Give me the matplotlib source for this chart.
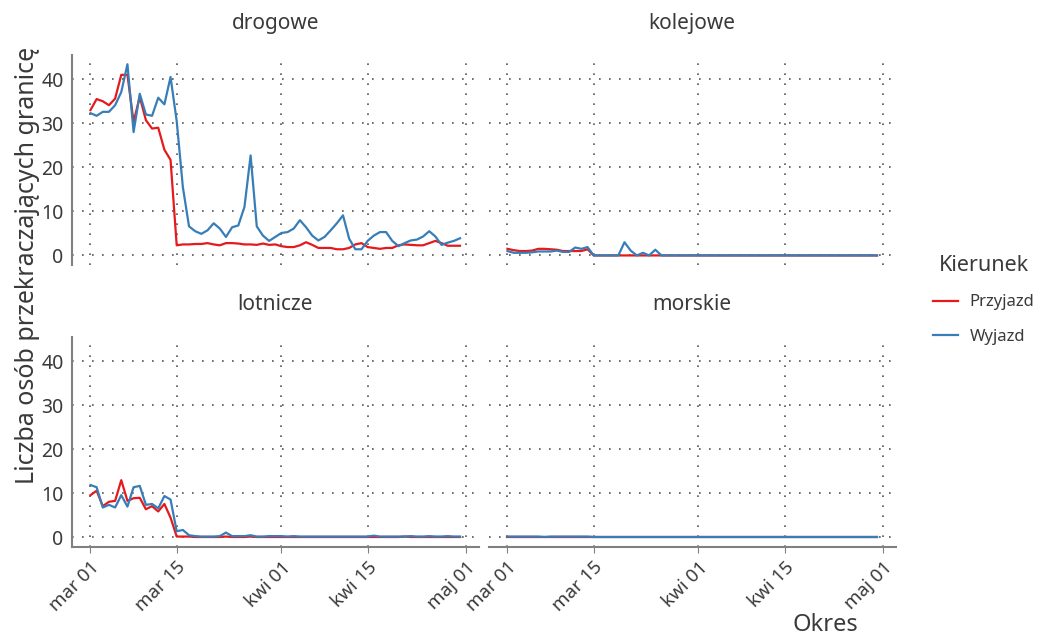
import numpy as np
import pandas as pd
import matplotlib
matplotlib.use("Agg")
import matplotlib.pyplot as plt
from matplotlib.lines import Line2D

plt.rcParams["font.family"] = ["Noto Sans", "DejaVu Sans"]

dates = pd.date_range("2020-03-01", "2020-04-30", freq="D")

drogowe_przyjazd = [33.0, 35.5, 35.0, 34.1, 35.6, 41.0, 41.0, 30.3, 36.0, 30.7,
                    28.8, 29.0, 24.0, 21.7, 2.3, 2.5, 2.5, 2.6, 2.6, 2.8,
                    2.5, 2.3, 2.8, 2.8, 2.7, 2.5, 2.5, 2.4, 2.7, 2.4,
                    2.5, 2.1, 1.9, 1.9, 2.3, 3.0, 2.4, 1.7, 1.7, 1.7,
                    1.4, 1.4, 1.7, 2.5, 2.8, 1.9, 1.7, 1.5, 1.7, 1.7,
                    2.3, 2.5, 2.4, 2.3, 2.3, 2.8, 3.3, 2.8, 2.2, 2.2, 2.2]
drogowe_wyjazd = [32.3, 31.7, 32.6, 32.6, 34.1, 37.1, 43.4, 28.0, 36.7, 32.0,
                  31.7, 35.8, 34.3, 40.5, 30.5, 15.5, 6.6, 5.5, 4.9, 5.7,
                  7.3, 6.1, 4.2, 6.4, 6.8, 11.0, 22.7, 6.6, 4.5, 3.3,
                  4.2, 5.1, 5.3, 6.1, 8.0, 6.4, 4.5, 3.4, 4.2, 5.7,
                  7.3, 9.1, 3.8, 1.4, 1.4, 3.3, 4.5, 5.3, 5.3, 3.3,
                  2.1, 2.8, 3.4, 3.6, 4.3, 5.5, 4.3, 2.4, 2.9, 3.3, 3.9]

kolejowe_przyjazd = [1.5, 1.2, 1.0, 1.0, 1.1, 1.5, 1.5, 1.4, 1.3, 1.0,
                     1.0, 1.0, 1.0, 1.4, 0.0, 0.0, 0.0, 0.0, 0.0, 0.0,
                     0.0, 0.0, 0.0, 0.0, 0.0, 0.0, 0.0, 0.0, 0.0, 0.0,
                     0.0, 0.0, 0.0, 0.0, 0.0, 0.0, 0.0, 0.0, 0.0, 0.0,
                     0.0, 0.0, 0.0, 0.0, 0.0, 0.0, 0.0, 0.0, 0.0, 0.0,
                     0.0, 0.0, 0.0, 0.0, 0.0, 0.0, 0.0, 0.0, 0.0, 0.0, 0.0]
kolejowe_wyjazd = [1.0, 0.6, 0.6, 0.6, 0.7, 0.9, 0.9, 0.9, 1.1, 0.8,
                   0.8, 1.8, 1.5, 1.9, 0.0, 0.0, 0.0, 0.0, 0.0, 3.0,
                   1.1, 0.0, 0.6, 0.0, 1.3, 0.0, 0.0, 0.0, 0.0, 0.0,
                   0.0, 0.0, 0.0, 0.0, 0.0, 0.0, 0.0, 0.0, 0.0, 0.0,
                   0.0, 0.0, 0.0, 0.0, 0.0, 0.0, 0.0, 0.0, 0.0, 0.0,
                   0.0, 0.0, 0.0, 0.0, 0.0, 0.0, 0.0, 0.0, 0.0, 0.0, 0.0]

lotnicze_przyjazd = [9.6, 10.6, 7.1, 8.1, 8.3, 13.0, 8.3, 8.9, 9.0, 6.4,
                     7.1, 5.9, 7.6, 4.5, 0.2, 0.2, 0.2, 0.1, 0.1, 0.1,
                     0.1, 0.1, 0.2, 0.1, 0.1, 0.1, 0.2, 0.1, 0.1, 0.1,
                     0.1, 0.1, 0.1, 0.1, 0.1, 0.1, 0.1, 0.1, 0.1, 0.1,
                     0.1, 0.1, 0.1, 0.1, 0.1, 0.1, 0.1, 0.1, 0.1, 0.1,
                     0.1, 0.2, 0.1, 0.1, 0.1, 0.1, 0.1, 0.1, 0.1, 0.1, 0.1]
lotnicze_wyjazd = [11.9, 11.4, 6.8, 7.4, 6.8, 9.6, 7.0, 11.4, 11.7, 7.4,
                   7.6, 6.6, 9.4, 8.6, 1.4, 1.7, 0.5, 0.3, 0.2, 0.2,
                   0.2, 0.3, 1.1, 0.3, 0.3, 0.3, 0.5, 0.2, 0.2, 0.3,
                   0.3, 0.3, 0.2, 0.3, 0.2, 0.2, 0.2, 0.2, 0.2, 0.2,
                   0.2, 0.2, 0.2, 0.2, 0.2, 0.2, 0.4, 0.2, 0.2, 0.2,
                   0.2, 0.2, 0.3, 0.2, 0.2, 0.3, 0.2, 0.2, 0.3, 0.2, 0.2]

morskie_przyjazd = [0.1] * 61
morskie_wyjazd = [0.2, 0.2, 0.2, 0.2, 0.2, 0.2, 0.1, 0.2, 0.2, 0.2,
                  0.2, 0.2, 0.2, 0.2, 0.1, 0.1, 0.1, 0.1, 0.1, 0.1,
                  0.1, 0.1, 0.1, 0.1, 0.1, 0.1, 0.1, 0.1, 0.1, 0.1,
                  0.1, 0.1, 0.1, 0.1, 0.1, 0.1, 0.1, 0.1, 0.1, 0.1,
                  0.1, 0.1, 0.1, 0.1, 0.1, 0.1, 0.1, 0.1, 0.1, 0.1,
                  0.1, 0.1, 0.1, 0.1, 0.1, 0.1, 0.1, 0.1, 0.1, 0.1, 0.1]

panels = ["drogowe", "kolejowe", "lotnicze", "morskie"]
przyjazd = [drogowe_przyjazd, kolejowe_przyjazd, lotnicze_przyjazd, morskie_przyjazd]
wyjazd = [drogowe_wyjazd, kolejowe_wyjazd, lotnicze_wyjazd, morskie_wyjazd]

tick_dates = pd.to_datetime(["2020-03-01", "2020-03-15", "2020-04-01",
                             "2020-04-15", "2020-05-01"])
tick_labels = ["mar 01", "mar 15", "kwi 01", "kwi 15", "maj 01"]
y_ticks = [0, 10, 20, 30, 40]

RED = "#E41A1C"
BLUE = "#377EB8"
TXT = "#3a3a3a"
AXC = "#808080"

W, H = 1046, 637
fig = plt.figure(figsize=(W / 100, H / 100), dpi=100)

lefts = [72, 489]
tops = [55, 337]
pw, ph = 406.5, 210

x0 = dates[0] - pd.Timedelta(days=3)
x1 = dates[0] + pd.Timedelta(days=63)

for i, name in enumerate(panels):
    r, c = divmod(i, 2)
    ax = fig.add_axes([lefts[c] / W, 1 - (tops[r] + ph) / H, pw / W, ph / H])
    ax.plot(dates, przyjazd[i], color=RED, lw=1.6)
    ax.plot(dates, wyjazd[i], color=BLUE, lw=1.6)
    ax.set_xlim(x0, x1)
    ax.set_ylim(-2.17, 45.5)
    ax.set_xticks(tick_dates)
    ax.set_yticks(y_ticks)
    ax.grid(True, color="#555555", linestyle=(0, (1, 5)), linewidth=1.2)
    ax.set_axisbelow(True)
    for s in ax.spines.values():
        s.set_visible(False)
    if c == 0:
        ax.spines["left"].set_visible(True)
        ax.spines["left"].set_color(AXC)
        ax.spines["left"].set_linewidth(1.5)
        ax.set_yticklabels([str(v) for v in y_ticks], fontsize=14, color=TXT)
    else:
        ax.set_yticklabels([])
    ax.tick_params(axis="y", length=0, pad=6)
    if r == 1:
        ax.spines["bottom"].set_visible(True)
        ax.spines["bottom"].set_color(AXC)
        ax.spines["bottom"].set_linewidth(1.5)
        ax.set_xticklabels(tick_labels, rotation=45, ha="right",
                           rotation_mode="anchor", fontsize=13.5, color=TXT)
        ax.tick_params(axis="x", length=4, color=AXC, pad=4)
    else:
        ax.set_xticklabels([])
        ax.tick_params(axis="x", length=0)
    fig.text((lefts[c] + pw / 2) / W, 1 - (tops[r] - 32) / H, name,
             ha="center", va="center", fontsize=15, color=TXT)

fig.text(28 / W, 1 - 265 / H, "Liczba osób przekraczających granicę",
         rotation=90, ha="center", va="center", fontsize=18, color=TXT)
fig.text(825 / W, 1 - 625 / H, "Okres", ha="center", va="center",
         fontsize=17, color=TXT)

handles = [Line2D([], [], color=RED, lw=1.6), Line2D([], [], color=BLUE, lw=1.6)]
leg = fig.legend(handles, ["Przyjazd", "Wyjazd"], title="Kierunek",
                 loc="center left", bbox_to_anchor=(918 / W, 1 - 300 / H),
                 frameon=False, fontsize=12, title_fontsize=15.5,
                 handlelength=1.5, handletextpad=0.7, labelspacing=1.1)
leg.get_title().set_color(TXT)
for t in leg.get_texts():
    t.set_color(TXT)

fig.savefig("out.png", dpi=100)
